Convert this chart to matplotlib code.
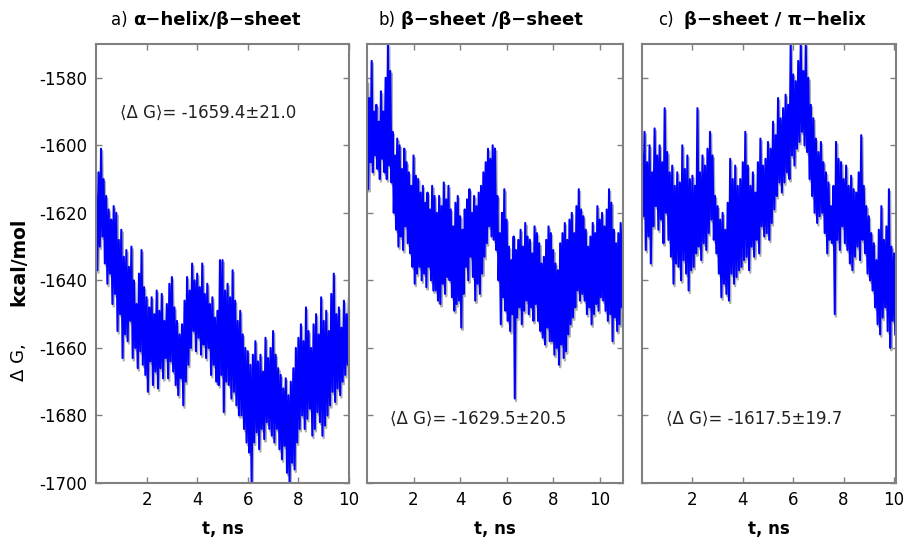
import numpy as np
import matplotlib
matplotlib.use("Agg")
import matplotlib.pyplot as plt
from matplotlib.transforms import offset_copy

plt.rcParams['font.family'] = ['DejaVu Sans']
plt.rcParams['axes.unicode_minus'] = False

# ---- data (upper / lower excursions of the noisy trace every 0.1 ns) ----
t_a = np.round(np.arange(0, 10.01, 0.1), 2)
hi_a = [-1614, -1608, -1601, -1610, -1615, -1619, -1622, -1618, -1620, -1628,
        -1625, -1633, -1631, -1636, -1630, -1640, -1647, -1638, -1631, -1642,
        -1645, -1648, -1645, -1650, -1643, -1649, -1644, -1652, -1647, -1641,
        -1639, -1648, -1652, -1656, -1653, -1646, -1639, -1643, -1635, -1640,
        -1638, -1642, -1635, -1644, -1641, -1647, -1645, -1651, -1649, -1634,
        -1634, -1643, -1641, -1645, -1637, -1646, -1652, -1649, -1656, -1660,
        -1661, -1665, -1662, -1658, -1664, -1662, -1667, -1657, -1663, -1660,
        -1655, -1662, -1666, -1668, -1672, -1669, -1674, -1670, -1666, -1660,
        -1657, -1653, -1658, -1648, -1655, -1660, -1653, -1650, -1656, -1645,
        -1652, -1649, -1655, -1644, -1638, -1650, -1648, -1654, -1646, -1650,
        -1645]
lo_a = [-1637, -1630, -1627, -1635, -1641, -1638, -1647, -1644, -1655, -1650,
        -1663, -1656, -1658, -1652, -1663, -1660, -1666, -1661, -1665, -1668,
        -1673, -1664, -1671, -1667, -1672, -1666, -1669, -1663, -1669, -1664,
        -1667, -1671, -1674, -1669, -1677, -1670, -1665, -1660, -1655, -1661,
        -1657, -1662, -1659, -1663, -1660, -1668, -1665, -1670, -1671, -1668,
        -1679, -1670, -1671, -1675, -1673, -1677, -1680, -1680, -1684, -1688,
        -1691, -1700, -1688, -1685, -1690, -1684, -1687, -1682, -1684, -1686,
        -1688, -1684, -1690, -1693, -1689, -1697, -1700, -1694, -1696, -1688,
        -1684, -1680, -1684, -1681, -1678, -1686, -1684, -1679, -1682, -1686,
        -1683, -1680, -1677, -1673, -1676, -1672, -1674, -1670, -1668, -1665,
        -1667]

t_b = np.round(np.arange(0, 11.01, 0.1), 2)
hi_b = [-1581, -1586, -1575, -1590, -1588, -1593, -1584, -1590, -1580, -1570,
        -1578, -1596, -1603, -1598, -1600, -1607, -1601, -1605, -1608, -1612,
        -1603, -1609, -1610, -1614, -1612, -1617, -1614, -1619, -1612, -1615,
        -1620, -1615, -1618, -1611, -1616, -1612, -1619, -1624, -1617, -1615,
        -1621, -1625, -1619, -1616, -1613, -1620, -1615, -1618, -1614, -1612,
        -1608, -1605, -1601, -1604, -1600, -1601, -1615, -1626, -1620, -1613,
        -1622, -1630, -1634, -1627, -1631, -1628, -1625, -1630, -1623, -1627,
        -1628, -1632, -1624, -1626, -1629, -1635, -1633, -1628, -1624, -1626,
        -1631, -1635, -1637, -1629, -1626, -1623, -1628, -1622, -1620, -1626,
        -1618, -1613, -1619, -1621, -1625, -1630, -1627, -1623, -1626, -1618,
        -1622, -1620, -1624, -1619, -1613, -1617, -1625, -1629, -1626, -1623,
        -1625]
lo_b = [-1613, -1605, -1608, -1603, -1607, -1610, -1604, -1608, -1610, -1606,
        -1611, -1620, -1625, -1630, -1627, -1631, -1624, -1629, -1632, -1636,
        -1641, -1638, -1636, -1640, -1638, -1642, -1636, -1640, -1643, -1643,
        -1646, -1647, -1641, -1644, -1639, -1640, -1645, -1649, -1647, -1646,
        -1654, -1644, -1636, -1640, -1633, -1639, -1646, -1641, -1644, -1638,
        -1633, -1629, -1624, -1627, -1628, -1631, -1640, -1653, -1645, -1649,
        -1652, -1655, -1650, -1675, -1651, -1648, -1653, -1649, -1646, -1650,
        -1648, -1652, -1647, -1652, -1655, -1657, -1659, -1654, -1658, -1658,
        -1662, -1660, -1665, -1659, -1663, -1661, -1656, -1653, -1651, -1648,
        -1643, -1646, -1644, -1646, -1650, -1648, -1653, -1650, -1647, -1649,
        -1645, -1646, -1649, -1652, -1650, -1658, -1651, -1655, -1653, -1648,
        -1650]

t_c = np.round(np.arange(0, 10.01, 0.1), 2)
hi_c = [-1602, -1596, -1605, -1600, -1608, -1595, -1603, -1600, -1605, -1589,
        -1602, -1608, -1606, -1612, -1608, -1611, -1600, -1607, -1603, -1610,
        -1609, -1612, -1589, -1608, -1603, -1606, -1601, -1596, -1603, -1615,
        -1618, -1622, -1620, -1625, -1617, -1604, -1610, -1606, -1612, -1610,
        -1605, -1596, -1606, -1612, -1608, -1614, -1605, -1598, -1606, -1604,
        -1599, -1601, -1593, -1597, -1586, -1592, -1589, -1585, -1588, -1570,
        -1579, -1581, -1575, -1570, -1578, -1570, -1580, -1588, -1592, -1598,
        -1602, -1599, -1605, -1608, -1611, -1618, -1612, -1599, -1604, -1605,
        -1610, -1606, -1612, -1609, -1613, -1614, -1608, -1597, -1612, -1618,
        -1621, -1626, -1629, -1634, -1625, -1618, -1628, -1624, -1613, -1630,
        -1632]
lo_c = [-1621, -1631, -1627, -1635, -1624, -1618, -1625, -1622, -1629, -1620,
        -1628, -1633, -1641, -1635, -1636, -1640, -1634, -1638, -1643, -1637,
        -1636, -1632, -1630, -1634, -1629, -1631, -1626, -1622, -1628, -1632,
        -1638, -1645, -1641, -1644, -1646, -1638, -1641, -1639, -1637, -1636,
        -1634, -1633, -1637, -1630, -1633, -1628, -1632, -1624, -1627, -1626,
        -1628, -1623, -1619, -1615, -1611, -1614, -1611, -1608, -1610, -1603,
        -1606, -1601, -1599, -1596, -1600, -1602, -1610, -1615, -1620, -1623,
        -1621, -1620, -1626, -1632, -1628, -1629, -1650, -1628, -1631, -1624,
        -1629, -1631, -1635, -1637, -1633, -1630, -1634, -1628, -1632, -1638,
        -1640, -1643, -1648, -1653, -1656, -1651, -1648, -1655, -1660, -1652,
        -1656]

titles_plain = ["a)", "b)", "c)"]
titles_bold = ["\u03b1\u2212helix/\u03b2\u2212sheet", "\u03b2\u2212sheet /\u03b2\u2212sheet",
               "\u03b2\u2212sheet / \u03c0\u2212helix"]
annotations = ["\u27e8\u0394 G\u27e9= -1659.4\u00b121.0",
               "\u27e8\u0394 G\u27e9= -1629.5\u00b120.5",
               "\u27e8\u0394 G\u27e9= -1617.5\u00b119.7"]
xticks = [2, 4, 6, 8, 10]
yticks = [-1700, -1680, -1660, -1640, -1620, -1600, -1580]

W, H = 909, 537
fig = plt.figure(figsize=(W / 100, H / 100), dpi=100)

def px_axes(l, r, t, b):
    return fig.add_axes([l / W, 1 - b / H, (r - l) / W, (b - t) / H])

axes = [px_axes(96, 349, 44, 483), px_axes(367, 623, 44, 483), px_axes(642, 896, 44, 483)]
xlims = [(0, 10), (0, 11), (0, 10.08)]
series = [(t_a, hi_a, lo_a), (t_b, hi_b, lo_b), (t_c, hi_c, lo_c)]
ann_pos = [(0.95, -1590.5), (1.0, -1681), (0.95, -1681)]
title_px = [(128, 133), (396, 401), (674, 684)]

for i, ax in enumerate(axes):
    t, hi, lo = series[i]
    t = np.asarray(t)
    tt = np.empty(2 * len(t))
    yy = np.empty(2 * len(t))
    tt[0::2] = t
    tt[1::2] = t + 0.05
    yy[0::2] = hi
    yy[1::2] = lo
    shadow = offset_copy(ax.transData, fig=fig, x=1.2, y=-2.5, units='dots')
    ax.plot(tt, yy, color='#b0b0b0', lw=1.6, transform=shadow, clip_on=True)
    ax.plot(tt, yy, color='#0000ff', lw=1.5)
    ax.set_xlim(*xlims[i])
    ax.set_ylim(-1700, -1570)
    ax.set_xticks(xticks)
    ax.set_yticks(yticks)
    ax.tick_params(direction='in', top=True, right=True, length=4, width=1,
                   color='#808080', labelsize=12, pad=6)
    if i > 0:
        ax.set_yticklabels([])
    for s in ax.spines.values():
        s.set_color('#808080')
        s.set_linewidth(1.5)
    ax.set_xlabel("t, ns", fontsize=12, fontweight='bold', labelpad=8)
    ax.text(ann_pos[i][0], ann_pos[i][1], annotations[i], fontsize=12,
            color='#222222', ha='left', va='center')
    xp, xb = title_px[i]
    fig.text(xp / W, 1 - 20 / H, titles_plain[i], fontsize=12, ha='right', va='center')
    fig.text(xb / W, 1 - 20 / H, titles_bold[i], fontsize=13, fontweight='bold',
             ha='left', va='center')

fig.text(19 / W, 1 - 362 / H, "\u0394 G,", rotation=90, fontsize=13, ha='center', va='center')
fig.text(19 / W, 1 - 262 / H, "kcal/mol", rotation=90, fontsize=13.5, fontweight='bold',
         ha='center', va='center')

fig.savefig("out.png", dpi=100)
